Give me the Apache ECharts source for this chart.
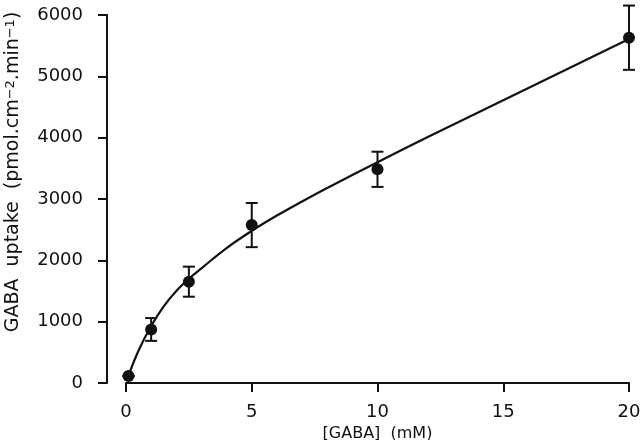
<!DOCTYPE html>
<html>
<head>
<meta charset="utf-8">
<script src="https://cdn.jsdelivr.net/npm/echarts@6/dist/echarts.min.js"></script>
<style>
  html, body { margin: 0; padding: 0; background: #fff; }
  #chart { width: 640px; height: 440px; }
</style>
</head>
<body>
<div id="chart"></div>
<script>
// measured points (mean ± error)
const gabaConc = [0.1, 1, 2.5, 5, 10, 20];
const uptakeMean = [115, 873, 1652, 2575, 3484, 5630];
const uptakeErr = [0, 186, 245, 360, 287, 524];

// fitted curve
const fitConc = [0.1, 0.5, 1, 1.5, 2, 2.5, 3, 4, 5, 6, 7, 8, 10, 12, 14, 16, 18, 20];
const fitUptake = [120, 530, 930, 1250, 1500, 1700, 1870, 2200, 2480, 2730, 2960, 3180, 3600, 4010, 4410, 4810, 5210, 5610];

const xTicks = [0, 5, 10, 15, 20];
const yTicks = [0, 1000, 2000, 3000, 4000, 5000, 6000];

const FONT = 'DejaVu Sans';
const INK = '#111';

const chart = echarts.init(document.getElementById('chart'), null, { renderer: 'canvas' });

const option = {
    animation: false,
    backgroundColor: '#fff',
    grid: { left: 126, right: 11, top: 15, bottom: 57, containLabel: false, outerBoundsMode: 'none' },
    xAxis: {
        type: 'value',
        min: xTicks[0],
        max: xTicks[xTicks.length - 1],
        interval: 5,
        name: '[GABA]  (mM)',
        nameLocation: 'middle',
        nameGap: 35,
        nameTextStyle: { fontFamily: FONT, fontSize: 16, color: INK },
        axisLine: { onZero: false, lineStyle: { color: INK, width: 2 } },
        axisTick: { length: 9, lineStyle: { color: INK, width: 2 } },
        axisLabel: { margin: 20, fontFamily: FONT, fontSize: 18, color: INK, formatter: v => String(v) },
        splitLine: { show: false }
    },
    yAxis: {
        type: 'value',
        min: yTicks[0],
        max: yTicks[yTicks.length - 1],
        interval: 1000,
        offset: 19,
        name: 'GABA  uptake  (pmol.cm{sup|−2}.min{sup|−1})',
        nameLocation: 'middle',
        nameGap: 84,
        nameTextStyle: {
            fontFamily: FONT, fontSize: 19, color: INK,
            padding: [0, 0, 0, 54],
            rich: {
                sup: { fontFamily: FONT, fontSize: 13, color: INK, verticalAlign: 'top', lineHeight: 12 }
            }
        },
        axisLine: { show: true, onZero: false, lineStyle: { color: INK, width: 2 } },
        axisTick: { show: true, length: 9, lineStyle: { color: INK, width: 2 } },
        axisLabel: { margin: 24, fontFamily: FONT, fontSize: 18, color: INK, formatter: v => String(v) },
        splitLine: { show: false }
    },
    series: [
        {
            name: 'fit',
            type: 'line',
            data: fitConc.map((c, i) => [c, fitUptake[i]]),
            smooth: 0.4,
            symbol: 'none',
            lineStyle: { color: INK, width: 2.2 },
            z: 2
        },
        {
            name: 'error',
            type: 'custom',
            data: gabaConc.map((c, i) => [c, uptakeMean[i] - uptakeErr[i], uptakeMean[i] + uptakeErr[i]]),
            renderItem: (params, api) => {
                const top = api.coord([api.value(0), api.value(2)]);
                const bot = api.coord([api.value(0), api.value(1)]);
                const w = 6;
                const st = { stroke: INK, lineWidth: 2 };
                return {
                    type: 'group',
                    children: [
                        { type: 'line', shape: { x1: top[0], y1: top[1], x2: bot[0], y2: bot[1] }, style: st },
                        { type: 'line', shape: { x1: top[0] - w, y1: top[1], x2: top[0] + w, y2: top[1] }, style: st },
                        { type: 'line', shape: { x1: bot[0] - w, y1: bot[1], x2: bot[0] + w, y2: bot[1] }, style: st }
                    ]
                };
            },
            z: 3
        },
        {
            name: 'mean',
            type: 'scatter',
            data: gabaConc.map((c, i) => [c, uptakeMean[i]]),
            symbol: 'circle',
            symbolSize: 12,
            itemStyle: { color: INK, opacity: 1 },
            z: 4
        }
    ]
};

chart.setOption(option);
</script>
</body>
</html>
